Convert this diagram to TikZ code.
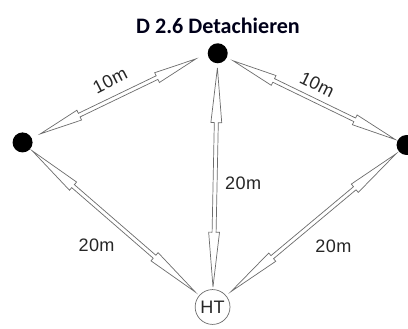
\documentclass[tikz,border=0pt]{standalone}
\usepackage{fontspec}
\usepackage{tikz}
\usetikzlibrary{calc}
\usetikzlibrary{positioning}
\newfontfamily\titlefont{Carlito}
\newfontfamily\labfont[LetterSpace=2]{Liberation Sans}
\tikzstyle{spot} = [circle, fill=black, inner sep=0, minimum size=0.7cm]
\tikzstyle{ring} = [circle, draw=gray!85!black, line width=0.7pt, inner sep=0, minimum size=1.22cm, text=black!85, font=\labfont\fontsize{18}{20}\selectfont]
\tikzstyle{dist} = [inner sep=0, text=black!85, font=\labfont\fontsize{18}{20}\selectfont]
\tikzstyle{dbl} = [draw=gray!85!black, fill=white, line width=0.7pt]
\newcommand{\headw}{0.19cm}
\newcommand{\shaftw}{0.07cm}
% hollow double-headed arrow: from #1 to #2, gaps #3 and #4
\newcommand{\dblarrow}[4]{%
  \coordinate (s) at ($(#1)!#3!(#2)$);
  \coordinate (e) at ($(#2)!#4!(#1)$);
  \draw [dbl] (s) -- ($(s)!.25!(e)!\headw!90:(e)$) -- ($(s)!.25!(e)!\shaftw!90:(e)$)
    -- ($(e)!.25!(s)!\shaftw!-90:(s)$) -- ($(e)!.25!(s)!\headw!-90:(s)$) -- (e)
    -- ($(e)!.25!(s)!\headw!90:(s)$) -- ($(e)!.25!(s)!\shaftw!90:(s)$)
    -- ($(s)!.25!(e)!\shaftw!-90:(e)$) -- ($(s)!.25!(e)!\headw!-90:(e)$) -- cycle;
}

\begin{document}
\begin{tikzpicture}
\useasboundingbox (0,0) rectangle (14.28,11.515);
\node [font=\titlefont\bfseries\fontsize{22}{26}\selectfont, text=black!90!blue] (title) at (7.63,10.62) {D 2.6 Detachieren};
\node [spot] (T) at (7.62, 9.65) {};
\node [spot] (L) at (0.79, 6.53) {};
\node [spot] (R) at (14.23, 6.44) {};
\node [ring] (HT) at (7.44, 0.77) {HT};
\dblarrow{L}{T.west}{0.69cm}{0.45cm}
\dblarrow{T}{R}{0.6cm}{0.44cm}
\dblarrow{T}{HT}{0.51cm}{0.7cm}
\dblarrow{L}{HT}{0.45cm}{0.8cm}
\dblarrow{HT}{R}{0.84cm}{0.48cm}
\node [dist, rotate=27] (dTL) at (3.85, 8.7) {10m};
\node [dist, rotate=-26] (dTR) at (11.1, 8.55) {10m};
\node [dist] (dTH) at (8.51, 5.11) {20m};
\node [dist] (dLH) at (3.38, 2.94) {20m};
\node [dist] (dRH) at (11.67, 2.88) {20m};
\end{tikzpicture}
\end{document}
